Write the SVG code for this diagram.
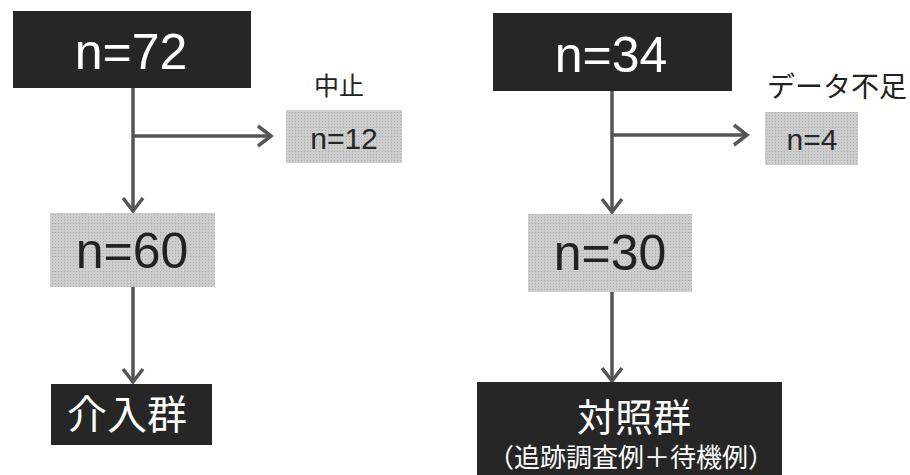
<svg xmlns="http://www.w3.org/2000/svg" width="910" height="475" viewBox="0 0 910 475">
<style>
.dark{fill:#262626}
.gray{fill:url(#dots)}
.big{font-family:"Liberation Sans",Arial,sans-serif;font-size:50px;text-anchor:middle}
.mid{font-family:"Liberation Sans",Arial,sans-serif;font-size:30px;text-anchor:middle;fill:#262626}
.w{fill:#ffffff}
.k{fill:#222222}
.jp{font-family:"Noto Sans CJK JP","Noto Sans CJK SC",sans-serif;text-anchor:middle}
.conn{stroke:#555;stroke-width:3.5;fill:none;marker-end:url(#chev)}
</style>
<defs>
<pattern id="dots" width="3" height="3" patternUnits="userSpaceOnUse">
<rect width="3" height="3" fill="#cdcdcd"/>
<rect x="1" y="1" width="1" height="1" fill="#acacac"/>
</pattern>
<marker id="chev" markerUnits="userSpaceOnUse" markerWidth="30" markerHeight="30" viewBox="-20 -15 30 30" refX="0" refY="0" orient="auto">
<path d="M-13,-10 L0,0 L-13,10" fill="none" stroke="#555" stroke-width="3.5"/>
</marker>
</defs>
<rect width="910" height="475" fill="#ffffff"/>
<g id="connectors">
<line class="conn" x1="133" y1="88" x2="133" y2="211"/>
<line class="conn" x1="133" y1="136" x2="271" y2="136"/>
<line class="conn" x1="133" y1="287" x2="133" y2="382"/>
<line class="conn" x1="612" y1="91" x2="612" y2="212"/>
<line class="conn" x1="612" y1="135" x2="747" y2="135"/>
<line class="conn" x1="612" y1="292" x2="612" y2="381"/>
</g>
<g id="n72">
<rect class="dark" x="13" y="11" width="238" height="77"/>
<text class="big w" x="131" y="69">n=72</text>
</g>
<g id="stop">
<text class="jp k" x="339" y="95" font-size="25">中止</text>
<rect class="gray" x="286" y="110" width="116" height="53"/>
<text class="mid" x="344" y="149">n=12</text>
</g>
<g id="n60">
<rect class="gray" x="50" y="213" width="165" height="74"/>
<text class="big k" x="132" y="268">n=60</text>
</g>
<g id="intervention">
<rect class="dark" x="51" y="384" width="161" height="61"/>
<text class="jp w" x="127" y="429" font-size="40">介入群</text>
</g>
<g id="n34">
<rect class="dark" x="493" y="13" width="239" height="78"/>
<text class="big w" x="611" y="72">n=34</text>
</g>
<g id="lack">
<text class="jp k" x="837" y="97" font-size="28">データ不足</text>
<rect class="gray" x="765" y="112" width="93" height="53"/>
<text class="mid" x="812" y="150">n=4</text>
</g>
<g id="n30">
<rect class="gray" x="528" y="214" width="164" height="78"/>
<text class="big k" x="610" y="270">n=30</text>
</g>
<g id="control">
<rect class="dark" x="477" y="382" width="305" height="93"/>
<text class="jp w" x="634" y="431" font-size="38">対照群</text>
<text class="jp w" x="631" y="467" font-size="26">（追跡調査例＋待機例）</text>
</g>
</svg>
